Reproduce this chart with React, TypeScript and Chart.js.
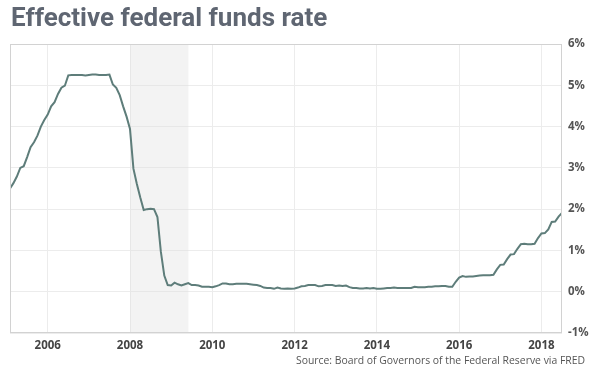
import React, { useEffect, useRef } from "react";
import { Chart, registerables } from "chart.js";

Chart.register(...registerables);

const TITLE = "Effective federal funds rate";
const SOURCE = "Source: Board of Governors of the Federal Reserve via FRED";

// Monthly data starting Feb 2005, ending Jul 2018
const START_YEAR = 2005;
const START_MONTH = 1; // 0-based month index (Feb)

const rates2005 = [2.5, 2.63, 2.79, 3.0, 3.04, 3.26, 3.5, 3.62, 3.78, 4.0, 4.16];
const rates2006 = [4.29, 4.49, 4.59, 4.79, 4.94, 4.99, 5.24, 5.25, 5.25, 5.25, 5.25, 5.24];
const rates2007 = [5.25, 5.26, 5.26, 5.25, 5.25, 5.25, 5.26, 5.02, 4.94, 4.76, 4.49, 4.24];
const rates2008 = [3.94, 2.98, 2.61, 2.28, 1.98, 2.0, 2.01, 2.0, 1.81, 0.97, 0.39, 0.16];
const rates2009 = [0.15, 0.22, 0.18, 0.15, 0.18, 0.21, 0.16, 0.16, 0.15, 0.12, 0.12, 0.12];
const rates2010 = [0.11, 0.13, 0.16, 0.2, 0.2, 0.18, 0.18, 0.19, 0.19, 0.19, 0.19, 0.18];
const rates2011 = [0.17, 0.16, 0.14, 0.1, 0.09, 0.09, 0.07, 0.1, 0.08, 0.07, 0.08, 0.07];
const rates2012 = [0.08, 0.1, 0.13, 0.14, 0.16, 0.16, 0.16, 0.13, 0.14, 0.16, 0.16, 0.16];
const rates2013 = [0.14, 0.15, 0.14, 0.15, 0.11, 0.09, 0.09, 0.08, 0.08, 0.09, 0.08, 0.09];
const rates2014 = [0.07, 0.07, 0.08, 0.09, 0.09, 0.1, 0.09, 0.09, 0.09, 0.09, 0.09, 0.12];
const rates2015 = [0.11, 0.11, 0.11, 0.12, 0.12, 0.13, 0.13, 0.14, 0.14, 0.12, 0.12, 0.24];
const rates2016 = [0.34, 0.38, 0.36, 0.37, 0.37, 0.38, 0.39, 0.4, 0.4, 0.4, 0.41, 0.54];
const rates2017 = [0.65, 0.66, 0.79, 0.9, 0.91, 1.04, 1.15, 1.16, 1.15, 1.15, 1.16, 1.3];
const rates2018 = [1.41, 1.42, 1.51, 1.69, 1.7, 1.82, 1.91];

const allRates = [
  ...rates2005, ...rates2006, ...rates2007, ...rates2008, ...rates2009,
  ...rates2010, ...rates2011, ...rates2012, ...rates2013, ...rates2014,
  ...rates2015, ...rates2016, ...rates2017, ...rates2018,
];

const xTicks = [2006, 2008, 2010, 2012, 2014, 2016, 2018];
const yMin = -1;
const yMax = 6;

// Recession shading
const recessionStart = 2008.0;
const recessionEnd = 2009.42;

const points = allRates.map((v, i) => ({
  x: START_YEAR + (START_MONTH + i) / 12,
  y: v,
}));

const xMin = points[0].x;
const xMax = points[points.length - 1].x;

const decorPlugin = {
  id: "decor",
  beforeDatasetsDraw(chart: any) {
    const { ctx, chartArea, scales } = chart;
    const x = scales.x;
    const a = Math.max(chartArea.left, x.getPixelForValue(recessionStart));
    const b = Math.min(chartArea.right, x.getPixelForValue(recessionEnd));
    ctx.save();
    ctx.fillStyle = "rgba(225,225,225,0.4)";
    ctx.fillRect(a, chartArea.top, b - a, chartArea.bottom - chartArea.top);
    ctx.restore();
  },
  afterDraw(chart: any) {
    const { ctx, chartArea } = chart;
    ctx.save();
    ctx.strokeStyle = "#d2d2d2";
    ctx.lineWidth = 1;
    ctx.strokeRect(
      Math.round(chartArea.left) + 0.5,
      Math.round(chartArea.top) + 0.5,
      Math.round(chartArea.right - chartArea.left) - 1,
      Math.round(chartArea.bottom - chartArea.top) - 1
    );
    ctx.fillStyle = "#5f6672";
    ctx.font = "bold 26px Roboto";
    ctx.textBaseline = "alphabetic";
    ctx.textAlign = "left";
    ctx.fillText(TITLE, 11, 26);
    ctx.fillStyle = "#555";
    ctx.font = "10.4px 'Open Sans'";
    ctx.textAlign = "right";
    ctx.textBaseline = "middle";
    ctx.fillText(SOURCE, 585, 361);
    ctx.restore();
  },
};

export default function App() {
  const ref = useRef<HTMLCanvasElement>(null);
  useEffect(() => {
    document.body.style.margin = "0";
    const chart = new Chart(ref.current as HTMLCanvasElement, {
      type: "line",
      data: {
        datasets: [
          {
            data: points,
            borderColor: "#5e7d7a",
            borderWidth: 2,
            pointRadius: 0,
            tension: 0,
            fill: false,
          },
        ],
      },
      options: {
        animation: false,
        responsive: false,
        layout: { padding: { left: 10, top: 44, right: 0, bottom: 0 } },
        plugins: { legend: { display: false }, tooltip: { enabled: false } },
        scales: {
          x: {
            type: "linear",
            min: xMin,
            max: xMax,
            afterBuildTicks: (scale: any) => {
              scale.ticks = xTicks.map((v) => ({ value: v }));
            },
            afterFit: (scale: any) => {
              scale.height = 38;
            },
            grid: { color: "#ececec", drawTicks: false },
            border: { display: false },
            ticks: {
              padding: 6,
              color: "#444",
              font: { family: "'Open Sans'", size: 11.5, weight: "bold" },
              callback: (v: any) => String(v),
              maxRotation: 0,
            },
          },
          y: {
            position: "right",
            min: yMin,
            max: yMax,
            afterFit: (scale: any) => {
              scale.width = 38;
            },
            grid: { color: "#ececec", drawTicks: false },
            border: { display: false },
            ticks: {
              stepSize: 1,
              padding: 6,
              color: "#555",
              font: { family: "'Open Sans'", size: 11.5, weight: "bold" },
              callback: (v: any) => v + "%",
            },
          },
        },
      },
      plugins: [decorPlugin],
    } as any);
    return () => chart.destroy();
  }, []);
  return <canvas ref={ref} width={600} height={371} style={{ display: "block" }} />;
}
